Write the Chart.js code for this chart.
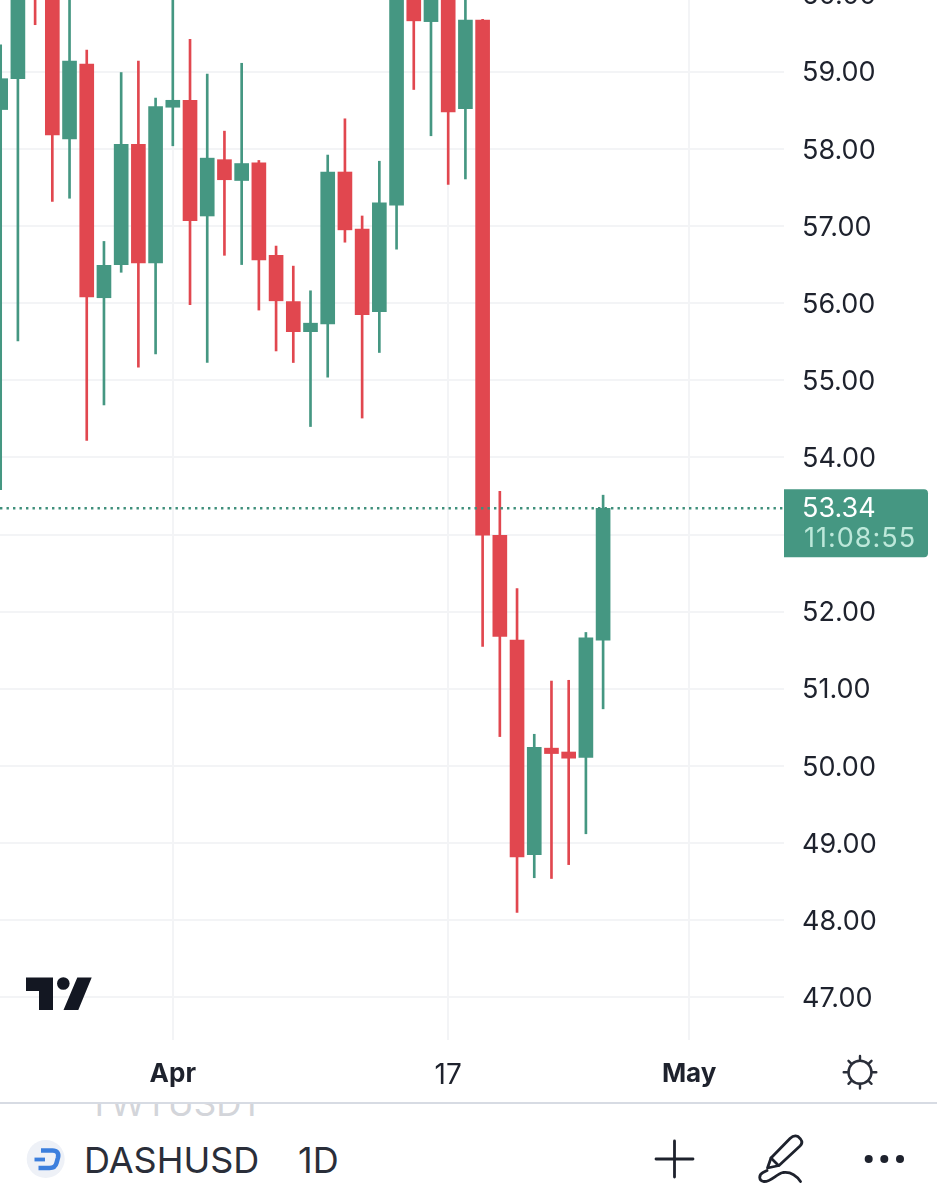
<!DOCTYPE html>
<html>
<head>
<meta charset="utf-8">
<title>DASHUSD 1D</title>
<script src="https://cdn.jsdelivr.net/npm/chart.js@4"></script>
<style>
  html, body { margin: 0; padding: 0; background: #fff; overflow: hidden; }
  body { position: relative; width: 937px; height: 1200px; font-family: Inter, "Noto Sans", sans-serif; }
  #chart { position: absolute; left: 0; top: -40px; }
  #ghost-row { position: absolute; left: 0; top: 1104px; width: 937px; height: 14px; overflow: hidden; }
  #ghost-row span { position: absolute; left: 88px; top: -21px; font-size: 35px; line-height: 40px; color: #d3d5da; }
  #divider { position: absolute; left: 0; top: 1102px; width: 937px; height: 2px; background: #d7dbe3; }
  .bar-text { position: absolute; top: 1138px; font-size: 36px; line-height: 44px; color: #2a2e39; }
  svg { position: absolute; left: 0; top: 0; pointer-events: none; }
</style>
</head>
<body>
<canvas id="chart" width="937" height="1143"></canvas>
<div id="ghost-row"><span>TWTUSDT</span></div>
<div id="divider"></div>
<div class="bar-text" style="left:84px">DASHUSD</div>
<div class="bar-text" style="left:298px">1D</div>
<svg width="937" height="1200" viewBox="0 0 937 1200">
  <!-- tradingview mark -->
  <path d="M26 977.5H53V1010H39V991H26Z M77.3 977.5H91.7L78.3 1010H63.5Z" fill="#131722"/>
  <circle cx="63.3" cy="983.5" r="6.3" fill="#131722"/>
  <!-- sun -->
  <g fill="none" stroke="#2a2e39" stroke-width="2.4" stroke-linecap="round">
    <circle cx="860" cy="1072.3" r="11.5"/>
    <path d="M860 1056V1060.8M860 1083.8V1088.6M843.7 1072.3H848.5M871.5 1072.3H876.3M848.5 1060.8L851.8 1064.1M868.2 1080.5L871.5 1083.8M871.5 1060.8L868.2 1064.1M851.8 1080.5L848.5 1083.8"/>
  </g>
  <!-- dash coin -->
  <circle cx="45.7" cy="1159" r="19" fill="#eef1f7"/>
  <path d="M41 1150.5H52.5C57 1150.5 59 1153 58 1157.5L56.5 1163C55.5 1167 53 1168 49.5 1168H38.5" fill="none" stroke="#3c7fdd" stroke-width="4.6"/>
  <path d="M34.5 1159.5H45" fill="none" stroke="#3c7fdd" stroke-width="3.8"/>
  <!-- plus, pen, dots -->
  <path d="M656 1159H693M674.5 1141V1177" fill="none" stroke="#1e222d" stroke-width="2.8" stroke-linecap="round"/>
  <g fill="none" stroke="#1e222d" stroke-width="2.8" stroke-linecap="round" stroke-linejoin="round">
    <path d="M767.5 1168L771 1158L790 1138.5C792.5 1136 795 1135 798 1136.5L800.5 1139C802.5 1141.5 802 1144 800 1146L779 1165.5Z"/>
    <path d="M771 1158L778.5 1165.5"/>
    <path d="M800.5 1181.5C796 1175 790 1171.5 783 1172.5C776 1174 771 1182 764 1181.5C758.5 1181 758.5 1175 763 1172.5L767 1170.5"/>
  </g>
  <circle cx="868.7" cy="1159" r="4" fill="#1e222d"/>
  <circle cx="884.3" cy="1159" r="4" fill="#1e222d"/>
  <circle cx="900" cy="1159" r="4" fill="#1e222d"/>
</svg>

<script>
// daily candles, 22 Mar to 26 Apr
const dates = ["Mar 22", "Mar 23", "Mar 24", "Mar 25", "Mar 26", "Mar 27", "Mar 28", "Mar 29", "Mar 30", "Mar 31",
  "Apr 1", "Apr 2", "Apr 3", "Apr 4", "Apr 5", "Apr 6", "Apr 7", "Apr 8", "Apr 9", "Apr 10", "Apr 11", "Apr 12",
  "Apr 13", "Apr 14", "Apr 15", "Apr 16", "Apr 17", "Apr 18", "Apr 19", "Apr 20", "Apr 21", "Apr 22", "Apr 23",
  "Apr 24", "Apr 25", "Apr 26"];
const opens = [58.51, 58.91, 60.9, 60.8, 58.13, 59.10, 56.07, 56.50, 58.06, 56.52,
  58.54, 58.63, 57.13, 57.86, 57.59, 57.82, 56.62, 56.02, 55.63, 55.73, 57.70, 56.96,
  55.89, 57.27, 60.3, 59.65, 60.6, 58.52, 59.67, 52.99, 51.63, 48.85, 50.23,
  50.18, 50.11, 51.63];
const highs = [59.35, 61.0, 61.2, 61.0, 60.3, 59.28, 56.80, 58.99, 59.14, 58.66,
  60.4, 59.42, 58.97, 58.23, 59.11, 57.85, 56.74, 56.48, 56.16, 57.92, 58.39, 57.13,
  57.84, 61.0, 60.6, 60.7, 60.9, 60.3, 59.68, 53.56, 52.30, 50.41, 51.10,
  51.11, 51.73, 53.51];
const lows = [53.58, 55.51, 59.61, 57.32, 57.36, 54.22, 54.68, 56.40, 55.17, 55.34,
  58.04, 55.98, 55.23, 56.62, 56.50, 55.91, 55.38, 55.23, 54.40, 55.04, 56.79, 54.51,
  55.36, 56.70, 58.77, 58.17, 57.54, 57.61, 51.55, 50.38, 48.10, 48.55, 48.54,
  48.72, 49.12, 50.74];
const closes = [58.91, 60.6, 60.1, 58.18, 59.14, 56.08, 56.49, 58.06, 56.52, 58.55,
  58.63, 57.07, 57.88, 57.60, 57.81, 56.56, 56.03, 55.63, 55.74, 57.70, 56.95, 55.85,
  57.30, 60.5, 59.66, 60.3, 58.48, 59.67, 52.99, 51.68, 48.82, 50.24, 50.16,
  50.10, 51.66, 53.34];

const priceTicks = [47, 48, 49, 50, 51, 52, 53, 54, 55, 56, 57, 58, 59, 60];
const dayTicks = [10, 26, 40];
const dayTickLabels = ["Apr", "17", "May"];
const boldDayLabels = ["Apr", "May"];
const countdown = "11:08:55";

const GREEN = "#459782";
const RED = "#e1474f";
const GRID = "#f3f4f6";
const TEXT = "#1e222d";
const FONT = "Inter, 'Noto Sans', sans-serif";

const xMin = -0.04;
const xMax = 45.51;
const lastPrice = closes[closes.length - 1];

function candleColor(ctx) {
  const i = ctx.dataIndex;
  return closes[i] >= opens[i] ? GREEN : RED;
}

// price tag on the axis, sits over the 53.00 label
const priceTag = {
  id: "priceTag",
  afterDraw(chart) {
    const { ctx, scales } = chart;
    const y = scales.y.getPixelForValue(lastPrice);
    const left = scales.y.left;
    ctx.save();
    ctx.fillStyle = GREEN;
    ctx.beginPath();
    ctx.roundRect(left, y - 19, 144, 68, [0, 4, 4, 0]);
    ctx.fill();
    ctx.textAlign = "left";
    ctx.textBaseline = "middle";
    ctx.font = "27px " + FONT;
    ctx.fillStyle = "#ffffff";
    ctx.fillText(lastPrice.toFixed(2), left + 18, y + 1);
    ctx.fillStyle = "#bde8da";
    ctx.letterSpacing = "1px";
    ctx.fillText(countdown, left + 20, y + 31);
    ctx.restore();
  },
};

new Chart(document.getElementById("chart"), {
  type: "bar",
  data: {
    datasets: [
      {
        type: "line",
        data: [{ x: xMin, y: lastPrice }, { x: xMax, y: lastPrice }],
        borderColor: "#3f8f7b",
        borderWidth: 2.4,
        borderDash: [2.4, 4.1],
        pointRadius: 0,
        order: 0,
      },
      {
        data: dates.map((d, i) => ({ x: i, y: [lows[i], highs[i]] })),
        backgroundColor: candleColor,
        barThickness: 2,
        grouped: false,
        order: 2,
      },
      {
        data: dates.map((d, i) => ({ x: i, y: [opens[i], closes[i]] })),
        backgroundColor: candleColor,
        barThickness: 14,
        grouped: false,
        order: 1,
      },
    ],
  },
  options: {
    responsive: false,
    animation: false,
    layout: { padding: 0 },
    plugins: { legend: { display: false }, tooltip: { enabled: false } },
    scales: {
      x: {
        type: "linear",
        min: xMin,
        max: xMax,
        offset: false,
        afterBuildTicks(scale) {
          scale.ticks = dayTicks.map((v) => ({ value: v }));
        },
        afterFit(scale) {
          scale.height = 63;
          scale.paddingLeft = 0;
          scale.paddingRight = 0;
        },
        border: { display: false },
        grid: { color: GRID, lineWidth: 2, drawTicks: false, offset: false },
        ticks: {
          autoSkip: false,
          maxRotation: 0,
          padding: 19,
          color: TEXT,
          callback: (v) => dayTickLabels[dayTicks.indexOf(v)],
          font: (ctx) => {
            const bold = ctx.tick && boldDayLabels.includes(ctx.tick.label);
            return { family: FONT, size: bold ? 26 : 28, weight: bold ? "bold" : "normal" };
          },
        },
      },
      y: {
        position: "right",
        min: 46.446,
        max: 60.449,
        afterBuildTicks(scale) {
          scale.ticks = priceTicks.map((v) => ({ value: v }));
        },
        afterFit(scale) {
          scale.width = 153;
          scale.paddingTop = 0;
          scale.paddingBottom = 0;
        },
        border: { display: false },
        grid: { color: GRID, lineWidth: 2, drawTicks: false },
        ticks: {
          autoSkip: false,
          padding: 18,
          labelOffset: 1.5,
          color: TEXT,
          callback: (v) => v.toFixed(2),
          font: { family: FONT, size: 27 },
        },
      },
    },
  },
  plugins: [priceTag],
});
</script>
</body>
</html>
